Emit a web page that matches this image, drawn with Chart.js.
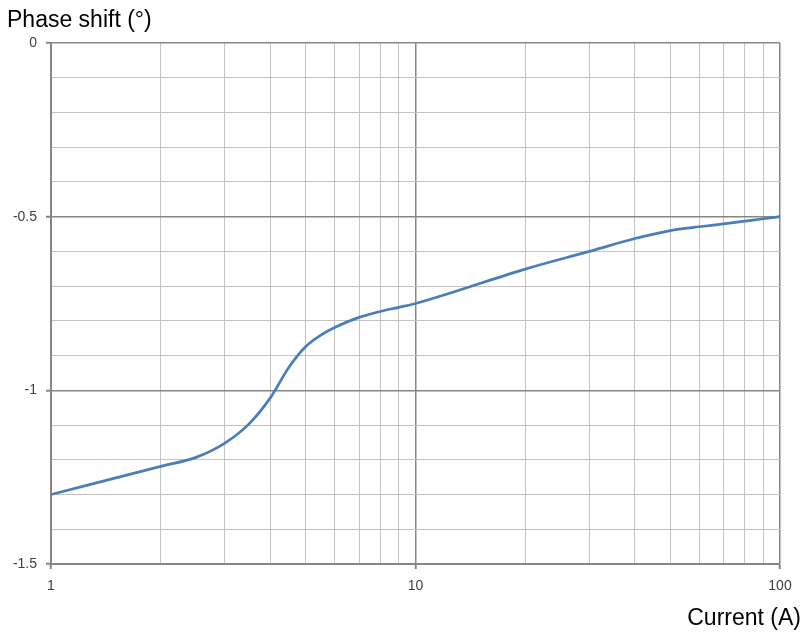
<!DOCTYPE html>
<html lang="en">
<head>
    <meta charset="UTF-8">
    <title>Phase shift vs current</title>
    <style>
        body {
            margin: 0;
            background-color: #ffffff;
        }
        #wrap {
            position: relative;
            width: 807px;
            height: 633px;
        }
    </style>
</head>
<body>
    <div id="wrap">
        <canvas id="phaseChart" width="807" height="633"></canvas>
    </div>

    <script src="https://cdn.jsdelivr.net/npm/chart.js"></script>
    <script>
        // values
        const currentA = [1, 2, 2.5, 3, 3.5, 4, 4.5, 5, 5.5, 6, 7, 8, 9, 10, 20, 30, 40, 50, 60, 70, 80, 90, 100];
        const phaseDeg = [-1.30, -1.219, -1.193, -1.152, -1.096, -1.021, -0.933, -0.874, -0.841, -0.819, -0.79, -0.773, -0.761, -0.75,
                          -0.651, -0.60, -0.563, -0.54, -0.529, -0.521, -0.513, -0.506, -0.50];
        const xTicks = [1, 2, 3, 4, 5, 6, 7, 8, 9, 10, 20, 30, 40, 50, 60, 70, 80, 90, 100];
        const xLabels = [1, 10, 100];
        const yLabels = [0, -0.5, -1, -1.5];

        const isMajorY = v => yLabels.some(l => Math.abs(l - v) < 1e-6);
        const isMajorX = v => xLabels.includes(v);

        const axisGray = '#868686';
        const minorGray = '#c4c4c4';

        // axis titles drawn as text on the canvas
        const axisTitles = {
            id: 'axisTitles',
            afterDraw(chart) {
                const c = chart.ctx;
                c.save();
                c.fillStyle = '#000000';
                c.font = '23px "Liberation Sans", Arial, sans-serif';
                c.textBaseline = 'alphabetic';
                c.textAlign = 'left';
                c.fillText('Phase shift (°)', 7, 27);
                c.textAlign = 'right';
                c.fillText('Current (A)', 801, 625);
                c.restore();
            }
        };

        const ctx = document.getElementById('phaseChart').getContext('2d');
        new Chart(ctx, {
            type: 'scatter',
            data: {
                datasets: [{
                    data: currentA.map((x, i) => ({ x: x, y: phaseDeg[i] })),
                    showLine: true,
                    borderColor: '#4a7ebb',
                    borderWidth: 2.7,
                    pointRadius: 0,
                    cubicInterpolationMode: 'monotone'
                }]
            },
            options: {
                responsive: false,
                animation: false,
                layout: {
                    padding: { left: 0, right: 27, top: 43, bottom: 0 }
                },
                plugins: {
                    legend: { display: false },
                    tooltip: { enabled: false }
                },
                scales: {
                    x: {
                        type: 'logarithmic',
                        min: 1,
                        max: 100,
                        afterBuildTicks(scale) {
                            scale.ticks = xTicks.map(v => ({ value: v }));
                        },
                        afterFit(scale) {
                            scale.height = 69;
                        },
                        border: { color: axisGray, width: 2 },
                        grid: {
                            color: c => isMajorX(c.tick.value) ? axisGray : minorGray,
                            lineWidth: c => isMajorX(c.tick.value) ? 1.5 : 1,
                            tickColor: c => isMajorX(c.tick.value) ? axisGray : 'rgba(0,0,0,0)',
                            tickLength: 5,
                            tickWidth: 2
                        },
                        ticks: {
                            autoSkip: false,
                            maxRotation: 0,
                            padding: 9,
                            color: '#404040',
                            font: { family: '"Liberation Sans", Arial, sans-serif', size: 14 },
                            callback: v => isMajorX(v) ? String(v) : ''
                        }
                    },
                    y: {
                        min: -1.5,
                        max: 0,
                        afterFit(scale) {
                            scale.width = 51;
                        },
                        border: { color: axisGray, width: 2 },
                        grid: {
                            color: c => isMajorY(c.tick.value) ? axisGray : minorGray,
                            lineWidth: c => isMajorY(c.tick.value) ? 1.5 : 1,
                            tickColor: c => isMajorY(c.tick.value) ? axisGray : 'rgba(0,0,0,0)',
                            tickLength: 5,
                            tickWidth: 2
                        },
                        ticks: {
                            stepSize: 0.1,
                            autoSkip: false,
                            padding: 9,
                            color: '#404040',
                            font: { family: '"Liberation Sans", Arial, sans-serif', size: 14 },
                            callback: v => isMajorY(v) ? String(Math.round(v * 10) / 10) : ''
                        }
                    }
                }
            },
            plugins: [axisTitles]
        });
    </script>
</body>
</html>
